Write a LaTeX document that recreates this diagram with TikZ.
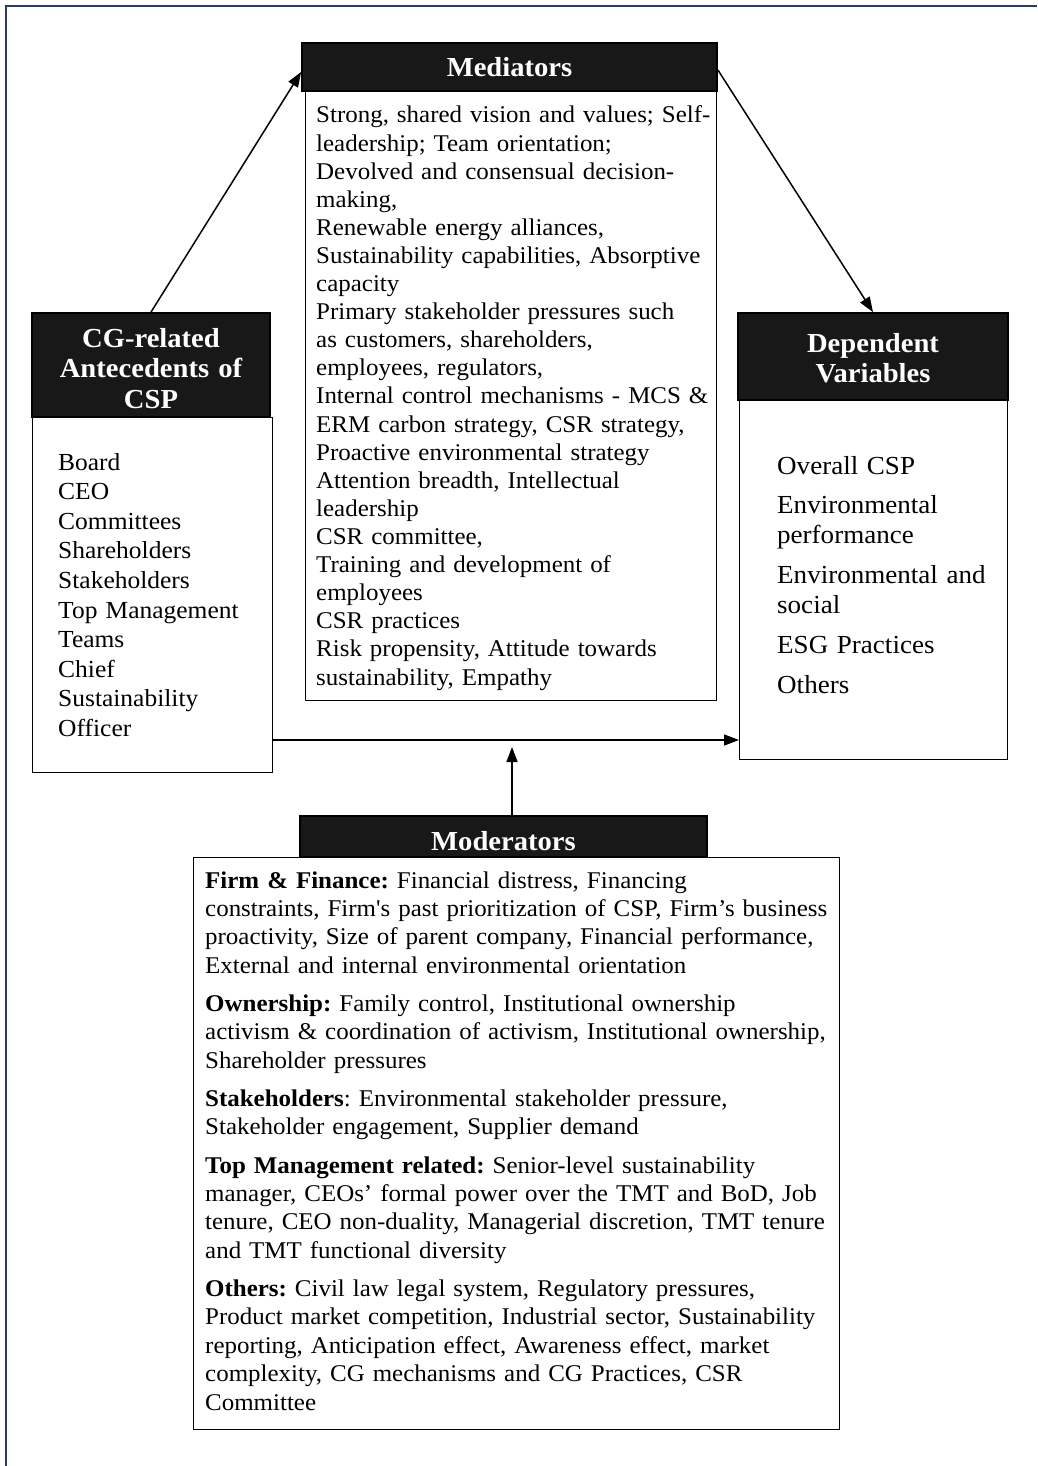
\documentclass[tikz,border=0pt]{standalone}
\usepackage{fontspec}
\setmainfont{Liberation Serif}[FakeStretch=1.04,Ligatures=TeXOff]
\usetikzlibrary{arrows.meta}
\definecolor{framecol}{RGB}{38,60,100}
\definecolor{hdrcol}{RGB}{24,24,24}
\frenchspacing
\begin{document}
\begin{tikzpicture}[x=1pt,y=-1pt,
  bodybox/.style={draw=black,line width=1.4pt,fill=white,inner sep=0pt,anchor=north west},
  hdrbox/.style={draw=black,line width=1.8pt,fill=hdrcol,inner sep=0pt},
  hdrtext/.style={text=white,inner sep=0pt,anchor=base,align=center,font=\fontsize{27.5}{30.5}\selectfont\bfseries},
  bodytext/.style={inner sep=0pt,anchor=base west,align=left,text width=#1},
  conn/.style={line width=1.5pt,-{Triangle[length=15pt,width=11pt]}}
]
\useasboundingbox (0,0) rectangle (1037,1466);
\fill[white] (0,0) rectangle (1037,1466);
% outer frame (left and top edges)
\draw[framecol,line width=2pt] (6,1466) -- (6,6) -- (1037,6);

% body boxes
\node[bodybox,minimum width=411pt,minimum height=609pt] (medB) at (305,91) {};
\node[bodybox,minimum width=240pt,minimum height=355pt] (cgB) at (32,417) {};
\node[bodybox,minimum width=268pt,minimum height=359pt] (depB) at (739,400) {};
\node[bodybox,minimum width=646pt,minimum height=572pt] (modB) at (193,857) {};

% header boxes
\node[hdrbox,minimum width=415pt,minimum height=48pt] (medH) at (509.5,67) {};
\node[hdrbox,minimum width=238pt,minimum height=104pt] (cgH) at (151,365) {};
\node[hdrbox,minimum width=270pt,minimum height=87pt] (depH) at (873,356.5) {};
\node[hdrbox,minimum width=407pt,minimum height=41pt] (modH) at (503.5,836.5) {};

% header texts
\node[hdrtext,text width=400pt] (medHT) at (509.5,76.5) {Mediators};
\node[hdrtext,text width=230pt] (cgHT) at (151,347) {CG-related\\Antecedents of\\CSP};
\node[hdrtext,text width=260pt] (depHT) at (873,352) {Dependent\\Variables};
\node[hdrtext,text width=400pt] (modHT) at (503.5,850) {Moderators};

% body texts
\node[bodytext=500pt,font=\fontsize{24}{28.1}\selectfont] (medT) at (316,123) {Strong, shared vision and values; Self-\\
leadership; Team orientation;\\
Devolved and consensual decision-\\
making,\\
Renewable energy alliances,\\
Sustainability capabilities, Absorptive\\
capacity\\
Primary stakeholder pressures such\\
as customers, shareholders,\\
employees, regulators,\\
Internal control mechanisms - MCS \&\\
ERM carbon strategy, CSR strategy,\\
Proactive environmental strategy\\
Attention breadth, Intellectual\\
leadership\\
CSR committee,\\
Training and development of\\
employees\\
CSR practices\\
Risk propensity, Attitude towards\\
sustainability, Empathy};

\node[bodytext=300pt,font=\fontsize{24.5}{29.6}\selectfont] (cgT) at (58,470) {Board\\
CEO\\
Committees\\
Shareholders\\
Stakeholders\\
Top Management\\
Teams\\
Chief\\
Sustainability\\
Officer};

\node[bodytext=300pt,font=\fontsize{26}{30.2}\selectfont] (depT) at (777,474) {Overall CSP\\[9.5pt]
Environmental\\
performance\\[9.5pt]
Environmental and\\
social\\[9.5pt]
ESG Practices\\[9.5pt]
Others};

\node[bodytext=760pt,font=\fontsize{24}{28.4}\selectfont] (modT) at (205,888) {\textbf{Firm \& Finance:} Financial distress, Financing\\
constraints, Firm's past prioritization of CSP, Firm’s business\\
proactivity, Size of parent company, Financial performance,\\
External and internal environmental orientation\\[9.8pt]
\textbf{Ownership:} Family control, Institutional ownership\\
activism \& coordination of activism, Institutional ownership,\\
Shareholder pressures\\[9.8pt]
\textbf{Stakeholders}: Environmental stakeholder pressure,\\
Stakeholder engagement, Supplier demand\\[9.8pt]
\textbf{Top Management related:} Senior-level sustainability\\
manager, CEOs’ formal power over the TMT and BoD, Job\\
tenure, CEO non-duality, Managerial discretion, TMT tenure\\
and TMT functional diversity\\[9.8pt]
\textbf{Others:} Civil law legal system, Regulatory pressures,\\
Product market competition, Industrial sector, Sustainability\\
reporting, Anticipation effect, Awareness effect, market\\
complexity, CG mechanisms and CG Practices, CSR\\
Committee};

% connectors
\coordinate (hy) at (0,740);
\coordinate (vtip) at (512,747);
\draw[conn] (cgH.north) -- ([yshift=-5pt]medH.west);
\draw[conn] ([yshift=-3pt]medH.east) -- (depH.north);
\draw[conn] (cgB.east |- hy) -- (depB.west |- hy);
\draw[conn] (vtip |- modH.north) -- (vtip);
\end{tikzpicture}
\end{document}
